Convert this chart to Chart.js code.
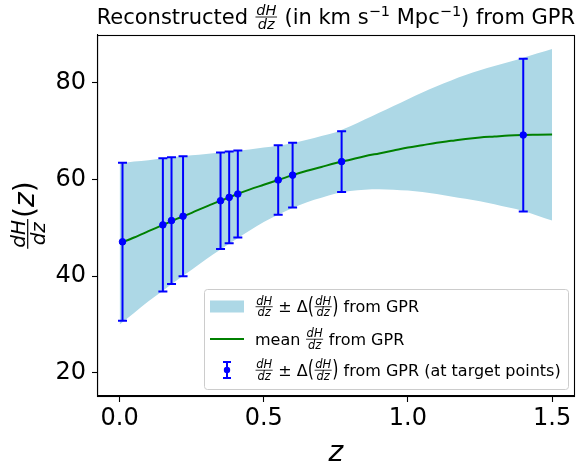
<!DOCTYPE html>
<html>
<head>
<meta charset="utf-8">
<script src="https://cdn.jsdelivr.net/npm/chart.js@4.4.1/dist/chart.umd.min.js"></script>
<style>
html,body{margin:0;padding:0;background:#fff;}
#wrap{width:578px;height:470px;position:relative;}
</style>
</head>
<body>
<div id="wrap"><canvas id="c" width="578" height="470"></canvas></div>
<script>
// ---- data ----
const zGrid = [0, 0.05, 0.1, 0.15, 0.2, 0.25, 0.3, 0.35, 0.4, 0.45, 0.5, 0.55, 0.6, 0.65, 0.7, 0.75, 0.8, 0.85, 0.9, 0.95, 1.0, 1.05, 1.1, 1.15, 1.2, 1.25, 1.3, 1.35, 1.4, 1.45, 1.5];
const meanCurve = [46.8, 48.0, 49.3, 50.6, 51.9, 53.1, 54.4, 55.6, 56.8, 57.9, 58.9, 59.9, 60.9, 61.8, 62.6, 63.4, 64.1, 64.8, 65.4, 66.0, 66.6, 67.1, 67.6, 68.0, 68.4, 68.7, 68.9, 69.1, 69.2, 69.25, 69.3];
const upperCurve = [63.3, 63.7, 64.0, 64.4, 64.7, 65.0, 65.3, 65.6, 65.9, 66.2, 66.6, 67.0, 67.5, 68.2, 69.0, 69.8, 71.0, 72.4, 73.8, 75.2, 76.6, 78.0, 79.3, 80.5, 81.6, 82.6, 83.5, 84.3, 85.2, 86.1, 87.0];
const lowerCurve = [30.0, 32.4, 34.8, 37.0, 39.2, 41.3, 43.5, 45.5, 47.5, 49.4, 51.2, 52.7, 54.1, 55.3, 56.2, 57.1, 57.6, 57.9, 58.0, 57.9, 57.7, 57.4, 57.0, 56.5, 56.0, 55.5, 54.9, 54.2, 53.5, 52.5, 51.5];
const zTarget = [0.01, 0.15, 0.18, 0.22, 0.35, 0.38, 0.41, 0.55, 0.60, 0.77, 1.40];
const meanTarget = [47.1, 50.6, 51.5, 52.4, 55.6, 56.3, 57.0, 59.9, 60.9, 63.7, 69.2];
const sigmaTarget = [16.35, 13.8, 13.1, 12.4, 10.0, 9.5, 9.0, 7.2, 6.7, 6.3, 15.8];
const xTicks = [0, 0.5, 1.0, 1.5];
const yTicks = [20, 40, 60, 80];

const FONT = '"DejaVu Sans", "Liberation Sans", sans-serif';
const BLUE = '#0000ff', GREEN = '#008000', LIGHT = '#add8e6';

function frac(ctx, x, barY, num, den, size, color) {
  ctx.save();
  ctx.font = 'italic ' + size + 'px ' + FONT;
  ctx.fillStyle = color || '#000';
  ctx.textAlign = 'center';
  ctx.textBaseline = 'alphabetic';
  const w = Math.max(ctx.measureText(num).width, ctx.measureText(den).width);
  const pad = size * 0.1;
  const cx = x + pad + w / 2;
  ctx.fillText(num, cx, barY - size * 0.15);
  ctx.fillText(den, cx, barY + size * 0.85);
  ctx.strokeStyle = color || '#000';
  ctx.lineWidth = Math.max(0.8, size * 0.06);
  ctx.beginPath(); ctx.moveTo(x + pad * 0.5, barY); ctx.lineTo(x + w + pad * 1.5, barY); ctx.stroke();
  ctx.restore();
  return w + pad * 2;
}
function txt(ctx, s, x, y, size, style) {
  ctx.save();
  ctx.font = (style ? style + ' ' : '') + size + 'px ' + FONT;
  ctx.fillStyle = '#000';
  ctx.textAlign = 'left';
  ctx.textBaseline = 'alphabetic';
  ctx.fillText(s, x, y);
  const w = ctx.measureText(s).width;
  ctx.restore();
  return w;
}
// tall thin delimiter
function delim(ctx, s, x, barY, size, stretch) {
  ctx.save();
  ctx.font = size + 'px ' + FONT;
  ctx.fillStyle = '#000';
  ctx.textAlign = 'left';
  ctx.textBaseline = 'middle';
  const w = ctx.measureText(s).width;
  ctx.translate(x, barY);
  ctx.scale(1, stretch);
  ctx.fillText(s, 0, 0);
  ctx.restore();
  return w;
}
// draws "dH/dz ± Δ(dH/dz)" ; returns x after
function pmExpr(ctx, x, base, fs, fsf) {
  const bar = base - fs * 0.33;
  x += frac(ctx, x, bar, 'dH', 'dz', fsf);
  x += txt(ctx, ' \u00b1 \u0394', x, base, fs);
  x += delim(ctx, '(', x, bar + 1, fs, 1.45);
  x += frac(ctx, x, bar, 'dH', 'dz', fsf);
  x += delim(ctx, ')', x, bar + 1, fs, 1.45);
  return x;
}

const decor = {
  id: 'decor',
  beforeDatasetDraw(chart, args) {
    if (args.index !== 0) return;
    const ctx = chart.ctx, xs = chart.scales.x, ys = chart.scales.y;
    ctx.save();
    ctx.strokeStyle = BLUE; ctx.lineWidth = 2;
    for (let i = 0; i < zTarget.length; i++) {
      const px = xs.getPixelForValue(zTarget[i]);
      const top = ys.getPixelForValue(meanTarget[i] + sigmaTarget[i]);
      const bot = ys.getPixelForValue(meanTarget[i] - sigmaTarget[i]);
      ctx.beginPath();
      ctx.moveTo(px, top); ctx.lineTo(px, bot);
      ctx.moveTo(px - 4.5, top); ctx.lineTo(px + 4.5, top);
      ctx.moveTo(px - 4.5, bot); ctx.lineTo(px + 4.5, bot);
      ctx.stroke();
    }
    ctx.restore();
  },
  afterDraw(chart) {
    const ctx = chart.ctx, a = chart.chartArea;
    // frame
    ctx.save();
    ctx.strokeStyle = '#000'; ctx.lineWidth = 1.1;
    ctx.strokeRect(Math.round(a.left) - 0.5, Math.round(a.top) + 0.5, Math.round(a.right - a.left) + 1, Math.round(a.bottom - a.top));
    ctx.restore();

    // title
    const tfs = 21, tbase = 24;
    const segs = [['Reconstructed ', 't'], ['f'], [' (in km s', 't'], ['\u22121', 's'], [' Mpc', 't'], ['\u22121', 's'], [') from GPR', 't']];
    const sfs = 14.5;
    ctx.save();
    let tw = 0;
    for (const s of segs) {
      if (s[1] === 't') { ctx.font = tfs + 'px ' + FONT; tw += ctx.measureText(s[0]).width; }
      else if (s[1] === 's') { ctx.font = sfs + 'px ' + FONT; tw += ctx.measureText(s[0]).width; }
      else { ctx.font = 'italic ' + sfs + 'px ' + FONT; tw += Math.max(ctx.measureText('dH').width, ctx.measureText('dz').width) + sfs * 0.2; }
    }
    ctx.restore();
    let x = (a.left + a.right) / 2 - tw / 2;
    for (const s of segs) {
      if (s[1] === 't') x += txt(ctx, s[0], x, tbase, tfs);
      else if (s[1] === 's') x += txt(ctx, s[0], x, tbase - 8, sfs);
      else x += frac(ctx, x, tbase - 7, 'dH', 'dz', sfs);
    }

    // y label (rotated)
    ctx.save();
    const cy = (a.top + a.bottom) / 2;
    ctx.translate(0, cy);
    ctx.rotate(-Math.PI / 2);
    const yfs = 20, pfs = 28;
    ctx.font = 'italic ' + yfs + 'px ' + FONT;
    const fw = Math.max(ctx.measureText('dH').width, ctx.measureText('dz').width) + yfs * 0.2;
    ctx.font = pfs + 'px ' + FONT;
    const pw = ctx.measureText('()').width;
    ctx.font = 'italic ' + pfs + 'px ' + FONT;
    const zw = ctx.measureText('z').width;
    let u = -(fw + pw + zw) / 2;
    u += frac(ctx, u, 27.7, 'dH', 'dz', yfs);
    u += txt(ctx, '(', u, 34, pfs);
    u += txt(ctx, 'z', u, 34, pfs, 'italic');
    u += txt(ctx, ')', u, 34, pfs);
    ctx.restore();

    // x label
    ctx.save();
    ctx.font = 'italic 28px ' + FONT;
    ctx.fillStyle = '#000'; ctx.textAlign = 'center'; ctx.textBaseline = 'alphabetic';
    ctx.fillText('z', (a.left + a.right) / 2, 461);
    ctx.restore();

    // legend
    const L = 204, T = 289, R = 568, B = 389;
    ctx.save();
    ctx.fillStyle = 'rgba(255,255,255,0.8)';
    ctx.strokeStyle = '#cccccc'; ctx.lineWidth = 1;
    ctx.beginPath();
    ctx.roundRect(L + 0.5, T + 0.5, R - L, B - T, 3);
    ctx.fill(); ctx.stroke();
    ctx.restore();
    const fs = 16, fsf = 11.5, tx = 255;
    // row 1
    const r1 = 306.5;
    ctx.save(); ctx.fillStyle = LIGHT; ctx.fillRect(210, r1 - 6, 34, 12); ctx.restore();
    let xx = pmExpr(ctx, tx, r1 + 5.5, fs, fsf);
    txt(ctx, ' from GPR', xx, r1 + 5.5, fs);
    // row 2
    const r2 = 339;
    ctx.save(); ctx.strokeStyle = GREEN; ctx.lineWidth = 2; ctx.beginPath(); ctx.moveTo(210, r2); ctx.lineTo(244, r2); ctx.stroke(); ctx.restore();
    xx = tx + txt(ctx, 'mean ', tx, r2 + 5.5, fs);
    xx += frac(ctx, xx, r2 + 5.5 - fs * 0.33, 'dH', 'dz', fsf);
    txt(ctx, ' from GPR', xx, r2 + 5.5, fs);
    // row 3
    const r3 = 370;
    ctx.save();
    ctx.strokeStyle = BLUE; ctx.fillStyle = BLUE; ctx.lineWidth = 2;
    ctx.beginPath();
    ctx.moveTo(227, r3 - 8); ctx.lineTo(227, r3 + 8);
    ctx.moveTo(223, r3 - 8); ctx.lineTo(231, r3 - 8);
    ctx.moveTo(223, r3 + 8); ctx.lineTo(231, r3 + 8);
    ctx.stroke();
    ctx.beginPath(); ctx.arc(227, r3, 3.2, 0, Math.PI * 2); ctx.fill();
    ctx.restore();
    xx = pmExpr(ctx, tx, r3 + 5.5, fs, fsf);
    txt(ctx, ' from GPR (at target points)', xx, r3 + 5.5, fs);
  }
};

const chart = new Chart(document.getElementById('c'), {
  type: 'line',
  data: {
    datasets: [
      { label: 'target', type: 'scatter', data: zTarget.map((z, i) => ({ x: z, y: meanTarget[i] })),
        backgroundColor: BLUE, borderColor: BLUE, pointRadius: 3.3, pointHoverRadius: 3.3, showLine: false },
      { label: 'mean', data: zGrid.map((z, i) => ({ x: z, y: meanCurve[i] })), borderColor: GREEN, borderWidth: 2,
        pointRadius: 0, fill: false, cubicInterpolationMode: 'monotone' },
      { label: 'upper', data: zGrid.map((z, i) => ({ x: z, y: upperCurve[i] })), borderColor: 'rgba(0,0,0,0)', borderWidth: 0,
        pointRadius: 0, fill: '+1', backgroundColor: LIGHT, cubicInterpolationMode: 'monotone' },
      { label: 'lower', data: zGrid.map((z, i) => ({ x: z, y: lowerCurve[i] })), borderColor: 'rgba(0,0,0,0)', borderWidth: 0,
        pointRadius: 0, fill: false, cubicInterpolationMode: 'monotone' }
    ]
  },
  options: {
    responsive: false, animation: false, events: [],
    layout: { padding: { top: 35, right: 3, left: 0, bottom: 0 } },
    plugins: { legend: { display: false }, tooltip: { enabled: false }, title: { display: false } },
    scales: {
      x: {
        type: 'linear', min: -0.075, max: 1.575,
        afterFit(s) { s.height = 74; },
        afterBuildTicks(s) { s.ticks = xTicks.map(v => ({ value: v })); },
        ticks: { font: { family: FONT, size: 24 }, color: '#000', padding: 2, maxRotation: 0,
          callback: v => v.toFixed(1) },
        grid: { drawOnChartArea: false, drawTicks: true, tickLength: 6, color: '#000', tickWidth: 1.1 },
        border: { display: true, color: '#000', width: 1.1 }
      },
      y: {
        type: 'linear', min: 15.2, max: 89.9,
        afterFit(s) { s.width = 98; },
        afterBuildTicks(s) { s.ticks = yTicks.map(v => ({ value: v })); },
        ticks: { font: { family: FONT, size: 24 }, color: '#000', padding: 6, callback: v => String(v) },
        grid: { drawOnChartArea: false, drawTicks: true, tickLength: 6, color: '#000', tickWidth: 1.1 },
        border: { display: true, color: '#000', width: 1.1 }
      }
    }
  },
  plugins: [decor]
});
</script>
</body>
</html>
